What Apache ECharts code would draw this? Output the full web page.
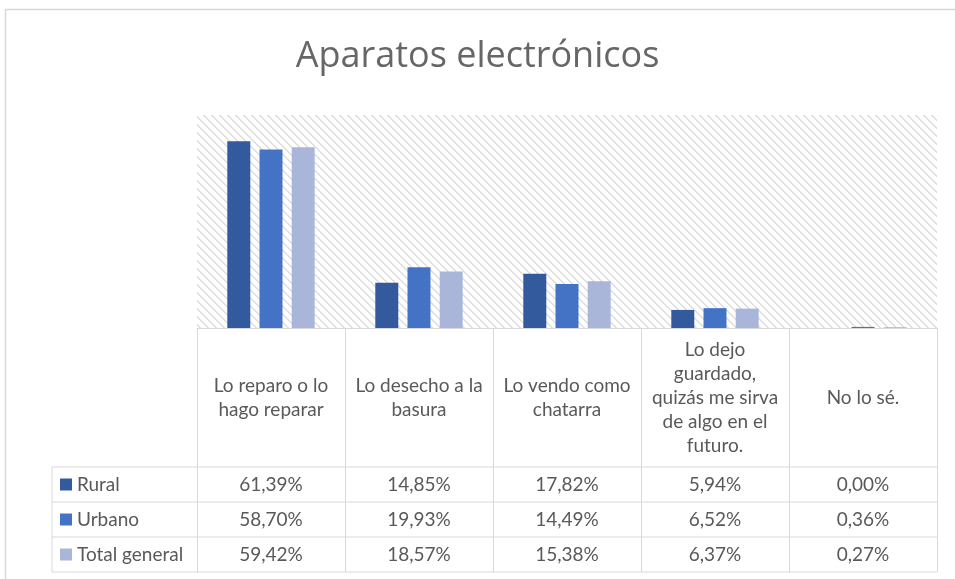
<!DOCTYPE html>
<html>
<head>
<meta charset="utf-8">
<title>Aparatos electrónicos</title>
<style>
  html, body { margin: 0; padding: 0; background: #fff; }
</style>
</head>
<body>
<div id="main" style="width:955px;height:579px;"></div>
<script src="https://cdn.jsdelivr.net/npm/echarts@6/dist/echarts.min.js"></script>
<script>
// categorias (cabecera de la tabla)
var categories = [
  'Lo reparo o lo\nhago reparar',
  'Lo desecho a la\nbasura',
  'Lo vendo como\nchatarra',
  'Lo dejo\nguardado,\nquizás me sirva\nde algo en el\nfuturo.',
  'No lo sé.'
];
var seriesNames = ['Rural', 'Urbano', 'Total general'];
var rural = [61.39, 14.85, 17.82, 5.94, 0.00];
var urbano = [58.70, 19.93, 14.49, 6.52, 0.36];
var totalGeneral = [59.42, 18.57, 15.38, 6.37, 0.27];
var colors = ['#345a9e', '#4472c4', '#a9b6da'];

var allValues = [rural, urbano, totalGeneral];

// medidas del area de grafico y de la tabla
var gLeft = 197, gRight = 18, gTop = 115, gBottom = 251;
var W = 955, H = 579;
var headerH = 139, rowH = 35, tableLeft = 52;
var axisY = H - gBottom;
var txt = '#595959', lineCol = '#d9d9d9';
var fontSz = 19;

// trama diagonal del fondo
var pat = document.createElement('canvas');
pat.width = 8; pat.height = 8;
var pctx = pat.getContext('2d');
pctx.fillStyle = '#dedede';
for (var i = 0; i < 8; i++) {
  pctx.fillRect(i, i, 1, 1);
  pctx.fillRect((i + 1) % 8, i, 1, 1);
}

function fmt(v) {
  return v.toFixed(2).replace('.', ',') + '%';
}

var xAxes = [{
  type: 'category',
  data: categories,
  position: 'bottom',
  axisLine: { show: true, lineStyle: { color: lineCol } },
  axisTick: { show: true, length: headerH + rowH * 3, lineStyle: { color: lineCol } },
  axisLabel: {
    interval: 0,
    margin: headerH / 2,
    verticalAlign: 'middle',
    color: txt,
    fontFamily: 'Lato',
    fontSize: fontSz,
    lineHeight: 24
  }
}];
for (var r = 0; r < 3; r++) {
  (function (vals, r) {
    xAxes.push({
      type: 'category',
      data: categories,
      position: 'bottom',
      offset: headerH + rowH * r + rowH / 2,
      axisLine: { show: false },
      axisTick: { show: false },
      axisLabel: {
        interval: 0,
        margin: 0,
        verticalAlign: 'middle',
        color: txt,
        fontFamily: 'Lato',
        fontSize: fontSz,
        formatter: function (v, idx) { return fmt(vals[idx]); }
      }
    });
  })(allValues[r], r);
}

// lineas de la tabla
var tableLines = [];
for (var k = 0; k <= 3; k++) {
  var y = axisY + headerH + rowH * k;
  tableLines.push({ type: 'line', shape: { x1: tableLeft, y1: y, x2: W - gRight, y2: y }, style: { stroke: lineCol, lineWidth: 1 } });
}
var yEnd = axisY + headerH + rowH * 3;
tableLines.push({ type: 'line', shape: { x1: tableLeft, y1: axisY + headerH, x2: tableLeft, y2: yEnd }, style: { stroke: lineCol, lineWidth: 1 } });
// marco exterior
tableLines.push({ type: 'rect', shape: { x: 5.5, y: 9.5, width: 1000, height: 1000 }, style: { fill: null, stroke: lineCol, lineWidth: 1.5 }, z: -10 });

var myChart = echarts.init(document.getElementById('main'));
myChart.setOption({
  animation: false,
  backgroundColor: '#fff',
  title: {
    text: 'Aparatos electrónicos',
    left: 'center',
    top: 34,
    textStyle: { color: '#666666', fontFamily: 'Open Sans', fontWeight: 'normal', fontSize: 36 }
  },
  legend: {
    data: seriesNames,
    orient: 'vertical',
    left: 60,
    top: axisY + headerH + (rowH - fontSz) / 2,
    padding: 0,
    itemGap: rowH - fontSz,
    itemWidth: 12,
    itemHeight: 12,
    icon: 'rect',
    selectedMode: false,
    textStyle: { color: txt, fontFamily: 'Lato', fontSize: fontSz, lineHeight: fontSz }
  },
  grid: {
    left: gLeft, right: gRight, top: gTop, bottom: gBottom,
    show: true,
    borderWidth: 0,
    backgroundColor: { image: pat, repeat: 'repeat' }
  },
  xAxis: xAxes,
  yAxis: {
    type: 'value',
    min: 0,
    max: 70,
    show: false,
    splitLine: { show: false }
  },
  graphic: tableLines,
  series: seriesNames.map(function (n, i) {
    return {
      name: n,
      type: 'bar',
      data: allValues[i],
      barWidth: 23,
      barGap: '40%',
      itemStyle: { color: colors[i] }
    };
  })
});
</script>
</body>
</html>
